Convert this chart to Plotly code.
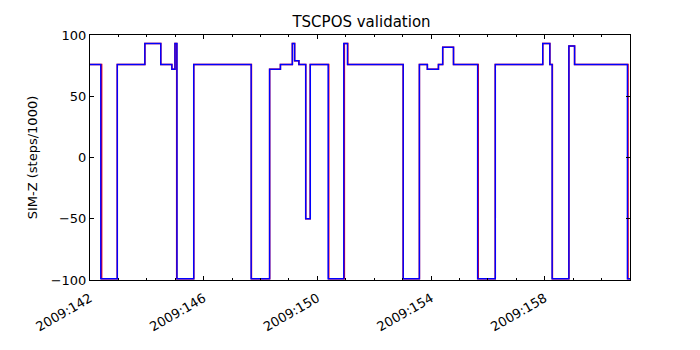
# Third Parties
import pandas as pd
import numpy as np
import plotly.graph_objs as go

#-------------------------------------------------------------------------------

# Data (day of year 2009, SIM-Z in steps/1000) ----------------------------------
model_doy = [142.00, 142.38, 142.96, 143.93, 144.49, 144.88, 144.99, 145.06,
             145.65, 147.67, 148.32, 148.70, 149.12, 149.20, 149.35, 149.59,
             149.75, 150.38, 150.93, 151.06, 153.02, 153.59, 153.87, 154.26,
             154.41, 154.79, 155.64, 156.26, 157.93, 158.18, 158.26, 158.85,
             159.05, 160.91, 161.00]
model_simz = [76, -99, 76, 93, 76, 72, 93, -99,
              76, -99, 72, 76, 93, 79, 76, -50,
              76, -99, 93, 76, -99, 76, 72, 76,
              90, 76, -99, 76, 93, 76, -99, 91,
              76, -99, -99]

telem_doy = [142.00, 142.41, 142.96, 143.93, 144.49, 144.88, 144.99, 145.05,
             145.65, 147.68, 148.32, 148.70, 149.12, 149.20, 149.35, 149.59,
             149.75, 150.40, 150.95, 151.07, 153.02, 153.59, 153.87, 154.26,
             154.41, 154.79, 155.66, 156.26, 157.93, 158.18, 158.27, 158.85,
             159.05, 160.93, 161.00]
telem_simz = [76, -99, 76, 93, 76, 72, 93, -99,
              76, -99, 72, 76, 93, 79, 76, -50,
              76, -99, 93, 76, -99, 76, 72, 76,
              90, 76, -99, 76, 93, 76, -99, 91,
              76, -99, -99]

tick_doy    = [142, 146, 150, 154, 158]
tick_labels = ['2009:142', '2009:146', '2009:150', '2009:154', '2009:158']
x_range_doy = [142, 161]
y_ticks     = [-100, -50, 0, 50, 100]

def doy_to_date(doy):
    '''day of year 2009 -> timestamp'''
    return pd.Timestamp('2009-01-01') + pd.to_timedelta(np.asarray(doy, float) - 1, unit='D')

# Parameters -------------------------------------------------------------------
font_family = 'DejaVu Sans'
axis_colour = 'black'
linewidth   = 1.5

# Figure -----------------------------------------------------------------------
fig = go.Figure()

fig.add_trace(go.Scatter(
    x = doy_to_date(telem_doy), y = telem_simz,
    mode = 'lines', line_shape = 'hv',
    line = dict(color = 'red', width = linewidth),
    name = 'telemetry'
))
fig.add_trace(go.Scatter(
    x = doy_to_date(model_doy), y = model_simz,
    mode = 'lines', line_shape = 'hv',
    line = dict(color = 'blue', width = linewidth),
    name = 'model'
))

# page has an 8px body margin, so margins are shifted to compensate
fig.update_layout(
    width = 700, height = 350,
    margin = dict(l = 82, r = 78, t = 27, b = 78),
    paper_bgcolor = 'white', plot_bgcolor = 'white',
    showlegend = False,
    font = dict(family = font_family, size = 13, color = 'black'),
    title = dict(text = 'TSCPOS validation', x = 0.505, xanchor = 'center',
                 y = 0.96, yanchor = 'middle',
                 font = dict(size = 15, color = 'black')),
)

fig.update_xaxes(
    range = list(doy_to_date(x_range_doy)),
    tickvals = list(doy_to_date(tick_doy)),
    ticktext = tick_labels,
    tickangle = -30,
    tickfont = dict(size = 13),
    ticklabelstandoff = 5,
    ticks = 'inside', ticklen = 4, tickcolor = axis_colour,
    minor = dict(ticks = 'inside', ticklen = 2, tickcolor = axis_colour,
                 tick0 = doy_to_date([142])[0], dtick = 86400000,
                 showgrid = False),
    showline = True, linecolor = axis_colour, linewidth = 1,
    mirror = 'allticks',
    showgrid = False, zeroline = False,
)

fig.update_yaxes(
    range = [-100, 100],
    tickvals = y_ticks,
    tickfont = dict(size = 13),
    ticks = 'inside', ticklen = 4, tickcolor = axis_colour,
    showline = True, linecolor = axis_colour, linewidth = 1,
    mirror = 'allticks',
    showgrid = False, zeroline = False,
    title = dict(text = 'SIM-Z (steps/1000)', standoff = 10,
                 font = dict(size = 13)),
)

# Save the fig ------------------------------------------------------------------
fig.write_html('out.html')
